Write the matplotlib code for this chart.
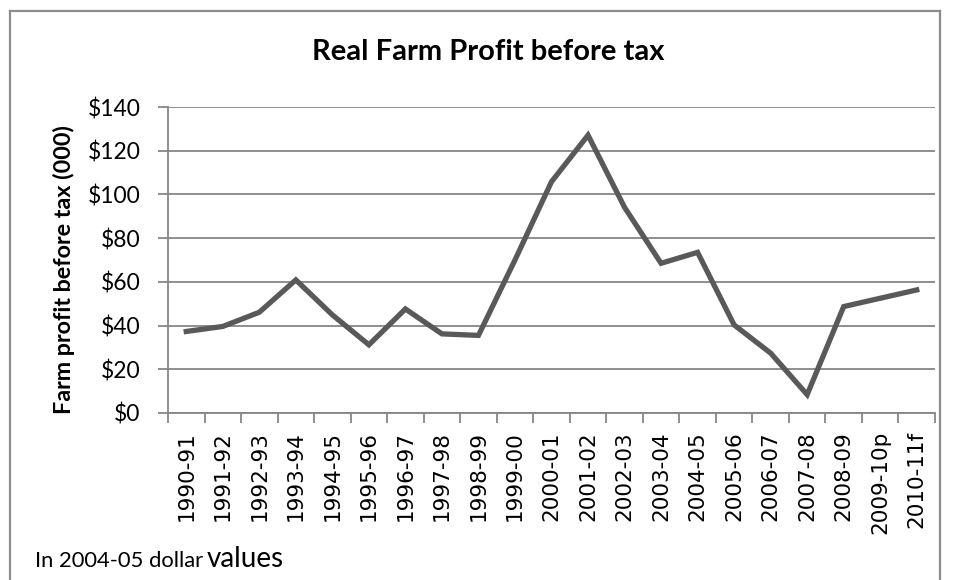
import numpy as np
import matplotlib
matplotlib.use("Agg")
import matplotlib.pyplot as plt
from matplotlib.lines import Line2D

# data
years = ['1990-91', '1991-92', '1992-93', '1993-94', '1994-95', '1995-96',
         '1996-97', '1997-98', '1998-99', '1999-00', '2000-01', '2001-02',
         '2002-03', '2003-04', '2004-05', '2005-06', '2006-07', '2007-08',
         '2008-09', '2009-10p', '2010-11f']
profit = [37.3, 39.6, 46.1, 60.9, 44.9, 31.2, 47.6, 36.2, 35.5, 70.0, 105.8,
          127.1, 94.1, 68.5, 73.5, 40.3, 27.4, 8.4, 48.7, 52.5, 56.3]
yticks = [0, 20, 40, 60, 80, 100, 120, 140]

W, H = 957, 580
fig = plt.figure(figsize=(W / 100, H / 100), dpi=100)
fig.patch.set_facecolor('white')

# axes placed in pixel terms
left, right, top, bottom = 168, 935, 107, 413
ax = fig.add_axes([left / W, 1 - bottom / H, (right - left) / W, (bottom - top) / H])

x = np.arange(len(years))
ax.plot(x, profit, color='#595959', lw=3.8, solid_joinstyle='miter', zorder=3)

grid_col = '#868686'
ax.set_xlim(-0.5, len(years) - 0.5)
ax.set_ylim(0, 140)
ax.set_yticks(yticks)
ax.set_yticklabels(['$%d' % v for v in yticks], family='Lato', fontsize=16.5)
ax.yaxis.grid(True, color=grid_col, lw=1.3)
ax.set_axisbelow(True)

ax.set_xticks(x)
ax.set_xticklabels(years, rotation=90, family='DejaVu Sans', fontsize=15.5)
ax.set_xticks(np.arange(-0.5, len(years)), minor=True)
ax.tick_params(axis='x', which='major', length=0, pad=13)
ax.tick_params(axis='x', which='minor', length=7, color=grid_col, width=1.3)
ax.tick_params(axis='y', length=7, color=grid_col, width=1.3, pad=13)

for s in ['top', 'right']:
    ax.spines[s].set_visible(False)
for s in ['left', 'bottom']:
    ax.spines[s].set_color(grid_col)
    ax.spines[s].set_linewidth(1.3)

fig.text(64 / W, 1 - 270 / H, 'Farm profit before tax (000)', family='Lato',
         fontweight='bold', fontsize=16.8, rotation=90, ha='center', va='center')

fig.text(488 / W, 1 - 52 / H, 'Real Farm Profit before tax', family='Lato',
         fontweight='bold', fontsize=21, ha='center', va='center')

# footnote, last word is bigger in the original
fig.text(35 / W, 1 - 567 / H, 'In 2004-05 dollar', family='Lato', fontsize=15.8,
         ha='left', va='baseline')
fig.text(207 / W, 1 - 567 / H, 'values', family='Lato', fontsize=20,
         ha='left', va='baseline')

# outer chart border
bx0, bx1, by0 = 9.5, 940, 10.5
for xs, ys in [([bx0, bx0], [by0, 600]), ([bx0, bx1], [by0, by0]), ([bx1, bx1], [by0, 600])]:
    fig.add_artist(Line2D([v / W for v in xs], [1 - v / H for v in ys],
                          color='#8c8c8c', lw=1.6, transform=fig.transFigure))

fig.savefig('out.png', dpi=100)
